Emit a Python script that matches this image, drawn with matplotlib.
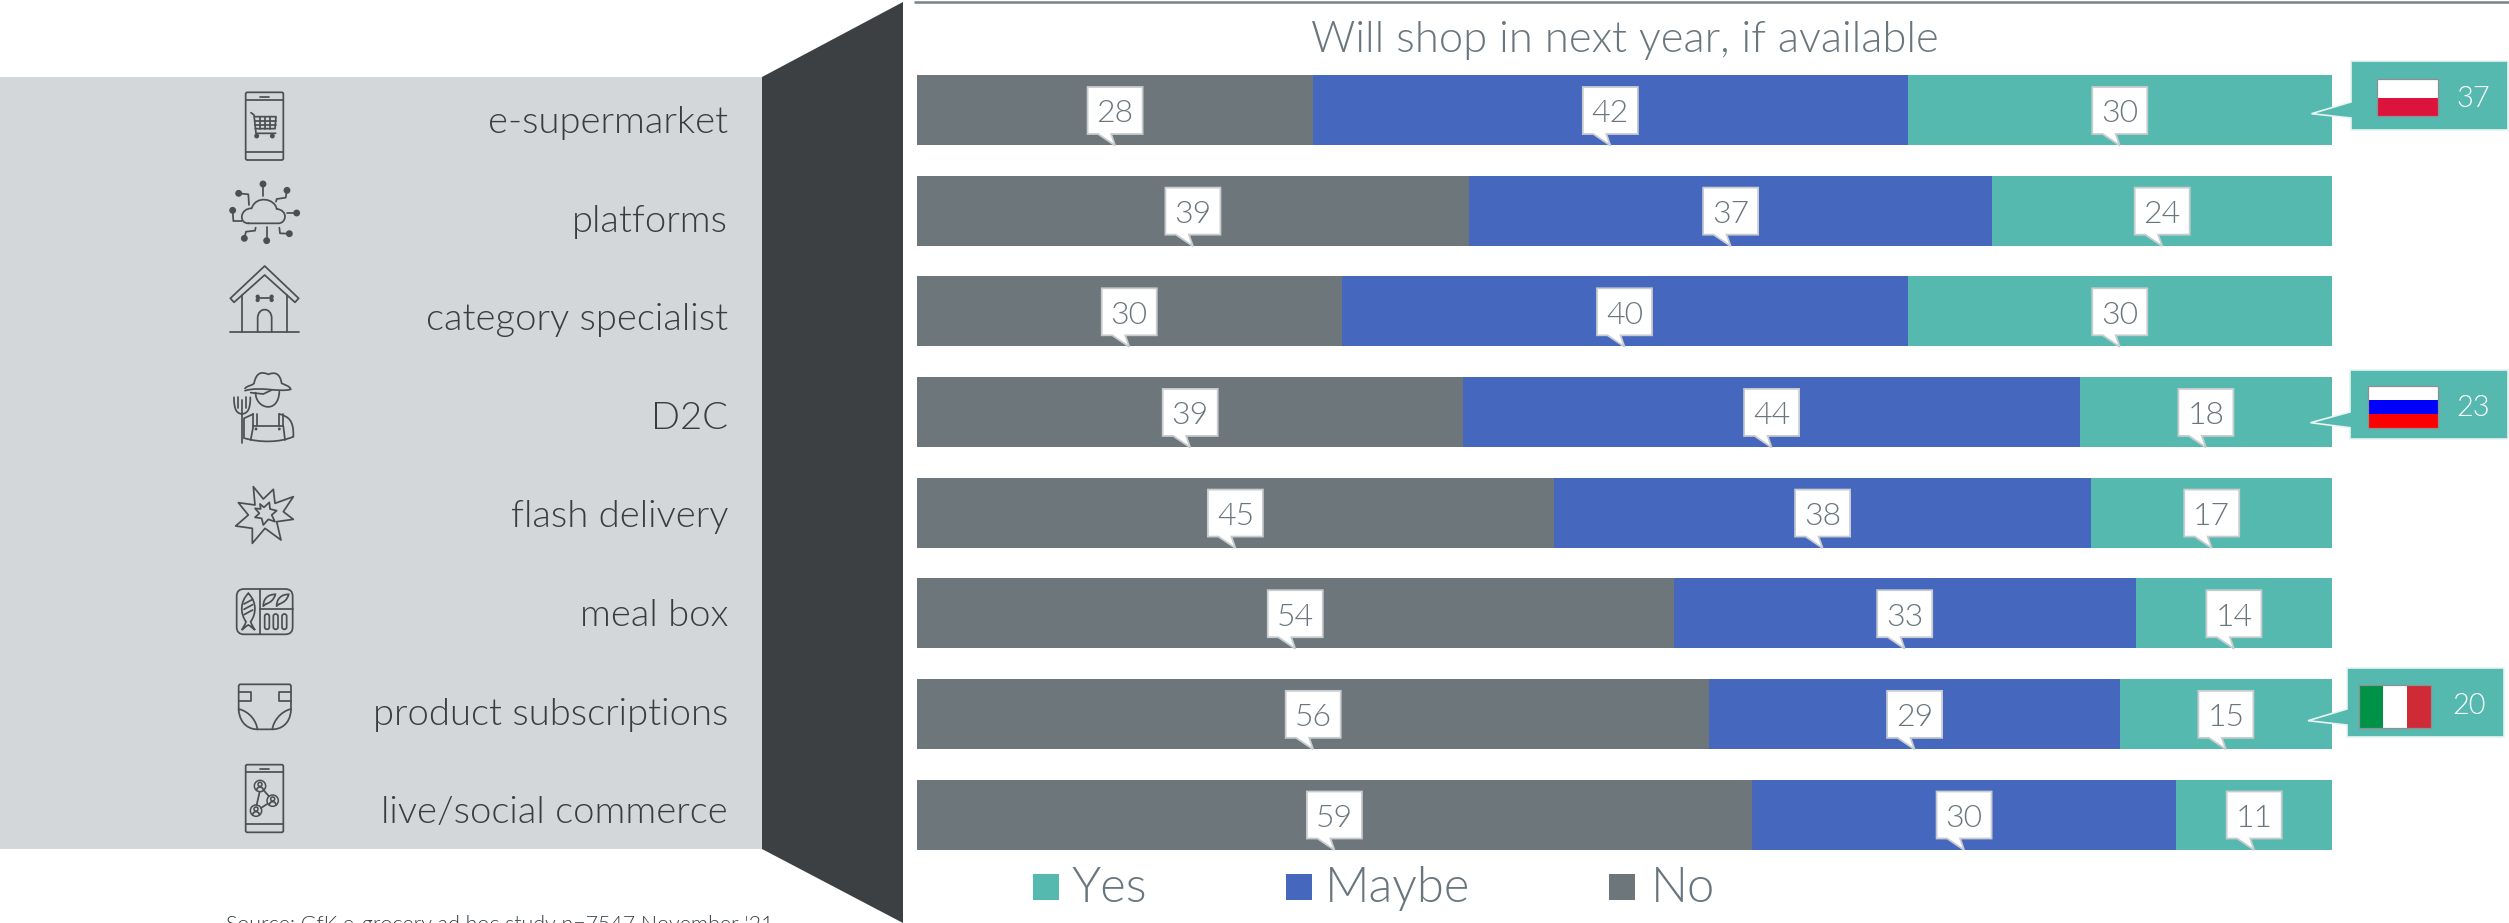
"""Online grocery formats: stated intent to shop in the next year, if available."""
import matplotlib
matplotlib.use("Agg")
import matplotlib.pyplot as plt
from matplotlib.patches import Circle, FancyBboxPatch, PathPatch, Polygon, Rectangle
from matplotlib.path import Path

WIDTH, HEIGHT = 2509, 923

plt.rcParams["font.family"] = ["Lato", "DejaVu Sans"]

formats = ["e-supermarket", "platforms", "category specialist", "D2C",
           "flash delivery", "meal box", "product subscriptions", "live/social commerce"]
no_share = [28, 39, 30, 39, 45, 54, 56, 59]
maybe_share = [42, 37, 40, 44, 38, 33, 29, 30]
yes_share = [30, 24, 30, 18, 17, 14, 15, 11]
country_rows = ["e-supermarket", "D2C", "product subscriptions"]
country_values = [37, 23, 20]
legend_labels = ["Yes", "Maybe", "No"]
title_text = "Will shop in next year, if available"
source_text = "Source: GfK e-grocery ad hoc study n=7547 November '21"

C_NO = "#6c767b"
C_MAYBE = "#4568be"
C_YES = "#56b9b0"
C_PANEL = "#d4d7da"
C_DARK = "#3c4043"
C_TEXT = "#383d41"
C_MUTED = "#6a767e"
C_ICON = "#4a4f53"
LIGHT = 300

BAR_LEFT, BAR_RIGHT = 917, 2332
ROW_FIRST, ROW_LAST = 110, 814.5
ROW_STEP = (ROW_LAST - ROW_FIRST) / 7
BAR_PX = 70


def px(size):
    """Font size in points for a height given in pixels at dpi 100."""
    return size * 0.72


def pts(ox, oy, coords):
    # icon outlines are sketched at 3 units per pixel
    return [(ox + x / 3, oy + y / 3) for x, y in coords]


def stroke(page, ox, oy, coords, closed=False):
    page.add_patch(Polygon(pts(ox, oy, coords), closed=closed, fill=False,
                           ec=C_ICON, lw=1.25, joinstyle="round", capstyle="round"))


def curve(page, ox, oy, coords):
    """Cubic bezier through a start point followed by (c1, c2, end) triples."""
    codes = [Path.MOVETO] + [Path.CURVE4] * (len(coords) - 1)
    page.add_patch(PathPatch(Path(pts(ox, oy, coords), codes), fill=False,
                             ec=C_ICON, lw=1.25, capstyle="round"))


def round_box(page, ox, oy, x0, y0, x1, y1, radius):
    (xa, ya), (xb, yb) = pts(ox, oy, [(x0, y0), (x1, y1)])
    r = radius / 3
    page.add_patch(FancyBboxPatch((xa + r, ya + r), xb - xa - 2 * r, yb - ya - 2 * r,
                                  boxstyle=f"round,pad={r},rounding_size={r}",
                                  fill=False, ec=C_ICON, lw=1.25))


def dot(page, ox, oy, x, y, r=8, filled=True):
    center = pts(ox, oy, [(x, y)])[0]
    page.add_patch(Circle(center, r / 3, fc=C_ICON if filled else "none", ec=C_ICON, lw=1.1))


def phone_body(page, ox, oy, top):
    round_box(page, ox, oy, 77, top, 190, top + 203, 5)
    stroke(page, ox, oy, [(77, top + 23), (190, top + 23)])
    stroke(page, ox, oy, [(77, top + 178), (190, top + 178)])
    stroke(page, ox, oy, [(120, top + 13), (147, top + 13)])


def icon_cart_phone(page):
    ox, oy = 220, 85
    phone_body(page, ox, oy, 22)
    stroke(page, ox, oy, [(93, 83), (102, 90), (108, 145), (167, 145)])
    stroke(page, ox, oy, [(104, 95), (168, 95), (165, 131), (106, 131)])
    for x in (120, 135, 150):
        stroke(page, ox, oy, [(x, 95), (x, 131)])
    for y in (107, 119):
        stroke(page, ox, oy, [(105, y), (167, y)])
    dot(page, ox, oy, 110, 153, 5)
    dot(page, ox, oy, 157, 153, 5)


def icon_cloud(page):
    ox, oy = 220, 85
    curve(page, ox, oy, [(85, 415), (55, 415), (60, 370), (95, 370),
                         (108, 330), (165, 340), (170, 372),
                         (205, 375), (200, 415), (175, 415),
                         (145, 415), (115, 415), (85, 415)])
    wires = [[(129, 297), (129, 333)],
             [(201, 316), (197, 338), (170, 342), (168, 350)],
             [(230, 384), (202, 384)],
             [(208, 446), (180, 445), (178, 428)],
             [(140, 467), (140, 427)],
             [(73, 460), (78, 440), (105, 437), (107, 428)],
             [(38, 376), (40, 408), (65, 408)],
             [(56, 325), (85, 328), (87, 360)]]
    for wire in wires:
        stroke(page, ox, oy, wire)
        dot(page, ox, oy, *wire[0])


def icon_kennel(page):
    ox, oy = 220, 260
    stroke(page, ox, oy, [(42, 127), (31, 115), (134, 18), (236, 115), (225, 127), (134, 45)],
           closed=True)
    stroke(page, ox, oy, [(67, 105), (67, 216)])
    stroke(page, ox, oy, [(200, 105), (200, 216)])
    stroke(page, ox, oy, [(30, 216), (237, 216)])
    curve(page, ox, oy, [(113, 216), (113, 190), (113, 190), (113, 175),
                         (113, 140), (155, 140), (155, 175),
                         (155, 190), (155, 190), (155, 216)])
    stroke(page, ox, oy, [(114, 115), (154, 115)])
    for x in (113, 155):
        dot(page, ox, oy, x, 110, 4)
        dot(page, ox, oy, x, 120, 4)


def icon_farmer(page):
    ox, oy = 220, 260
    curve(page, ox, oy, [(75, 385), (85, 375), (95, 378), (102, 370),
                         (110, 335), (125, 335), (145, 343),
                         (165, 335), (180, 340), (185, 370),
                         (195, 375), (210, 378), (212, 388),
                         (180, 398), (120, 378), (75, 392)])
    stroke(page, ox, oy, [(92, 398), (130, 402), (155, 390)])
    curve(page, ox, oy, [(107, 398), (105, 445), (175, 465), (178, 395)])
    stroke(page, ox, oy, [(66, 420), (66, 548)])
    for x in (54, 78):
        stroke(page, ox, oy, [(x, 412), (x, 445)])
    curve(page, ox, oy, [(42, 412), (42, 450), (50, 460), (66, 462)])
    curve(page, ox, oy, [(91, 412), (91, 450), (82, 460), (66, 462)])
    stroke(page, ox, oy, [(72, 535), (72, 475), (100, 462)])
    curve(page, ox, oy, [(178, 462), (205, 470), (222, 480), (220, 530)])
    curve(page, ox, oy, [(75, 535), (120, 548), (180, 548), (220, 530)])
    for x in (100, 112, 178, 190):
        stroke(page, ox, oy, [(x, 462), (x, 498)])
    stroke(page, ox, oy, [(100, 498), (190, 498)])
    stroke(page, ox, oy, [(100, 498), (92, 540)])
    stroke(page, ox, oy, [(190, 498), (195, 540)])
    dot(page, ox, oy, 108, 507, 2)
    dot(page, ox, oy, 178, 507, 2)


def icon_burst(page):
    ox, oy = 220, 480
    stroke(page, ox, oy, [(100, 20), (130, 57), (160, 28), (165, 70), (220, 50), (190, 95),
                          (220, 118), (170, 125), (183, 180), (135, 145), (97, 190), (97, 145),
                          (47, 138), (85, 105), (55, 68), (105, 75)], closed=True)
    stroke(page, ox, oy, [(120, 72), (132, 82), (148, 67), (150, 87), (170, 92), (155, 105),
                          (165, 125), (145, 118), (130, 135), (125, 115), (105, 112), (118, 100),
                          (105, 85), (122, 87)], closed=True)


def icon_meal_box(page):
    ox, oy = 220, 480
    round_box(page, ox, oy, 50, 327, 218, 463, 22)
    stroke(page, ox, oy, [(119, 327), (119, 463)])
    stroke(page, ox, oy, [(119, 388), (218, 388)])
    curve(page, ox, oy, [(85, 340), (60, 365), (60, 400), (78, 425),
                         (75, 435), (70, 442), (65, 450),
                         (72, 445), (78, 438), (85, 435),
                         (92, 438), (98, 445), (105, 450),
                         (100, 442), (95, 435), (92, 425),
                         (110, 400), (110, 365), (85, 340)])
    for y in (372, 388, 404):
        stroke(page, ox, oy, [(72, y), (98, y - 14)])
    for x in (130, 170):
        curve(page, ox, oy, [(x, 378), (x, 355), (x + 15, 343), (x + 36, 343),
                             (x + 32, 360), (x + 20, 368), (x + 8, 372)])
        stroke(page, ox, oy, [(x, 378), (x + 8, 372)])
    for x in (141, 167, 193):
        round_box(page, ox, oy, x - 7, 402, x + 7, 448, 7)


def icon_diaper(page):
    ox, oy = 220, 675
    curve(page, ox, oy, [(56, 105), (56, 80), (56, 55), (56, 35),
                         (56, 30), (58, 28), (62, 28),
                         (110, 28), (160, 28), (207, 28),
                         (211, 28), (213, 30), (213, 35),
                         (213, 55), (213, 80), (213, 105),
                         (210, 150), (180, 163), (157, 163),
                         (140, 163), (125, 163), (112, 163),
                         (90, 163), (60, 150), (56, 105)])
    curve(page, ox, oy, [(56, 102), (90, 110), (110, 140), (112, 163)])
    curve(page, ox, oy, [(213, 102), (180, 110), (160, 140), (157, 163)])
    stroke(page, ox, oy, [(56, 52), (93, 52), (93, 77), (56, 77)])
    stroke(page, ox, oy, [(213, 52), (176, 52), (176, 77), (213, 77)])


def icon_social_phone(page):
    ox, oy = 220, 675
    phone_body(page, ox, oy, 269)
    for x, y in [(120, 333), (158, 377), (108, 407)]:
        dot(page, ox, oy, x, y, 17, filled=False)
        dot(page, ox, oy, x, y - 5, 6, filled=False)
        curve(page, ox, oy, [(x - 10, y + 12), (x - 8, y), (x + 8, y), (x + 10, y + 12)])
    stroke(page, ox, oy, [(119, 350), (110, 390)])
    stroke(page, ox, oy, [(131, 346), (147, 364)])
    stroke(page, ox, oy, [(123, 399), (143, 386)])


def draw_value_callout(page, x_center, bar_top, value):
    """White speech bubble with its tip on the lower edge of the bar segment."""
    top, bottom, tip = bar_top + 12, bar_top + 59, bar_top + 70.5
    left, right = x_center - 27.5, x_center + 27.5
    page.add_patch(Polygon([(left, top), (right, top), (right, bottom),
                            (x_center - 4, bottom), (x_center, tip),
                            (x_center - 17, bottom), (left, bottom)],
                           closed=True, fc="white", ec="#c9cccf", lw=1.3, zorder=3))
    page.text(x_center, bar_top + 47.5, str(value), ha="center", va="baseline",
              fontsize=px(32), fontweight=LIGHT, color=C_MUTED, zorder=4)


def flag_poland(page, x0, y0, x1, y1):
    mid = (y0 + y1) / 2
    page.add_patch(Rectangle((x0, y0), x1 - x0, mid - y0, fc="white", zorder=5))
    page.add_patch(Rectangle((x0, mid), x1 - x0, y1 - mid, fc="#dc143c", zorder=5))


def flag_russia(page, x0, y0, x1, y1):
    band = (y1 - y0) / 3
    for i, colour in enumerate(["white", "#0000ff", "#ff0000"]):
        page.add_patch(Rectangle((x0, y0 + i * band), x1 - x0, band, fc=colour, zorder=5))


def flag_italy(page, x0, y0, x1, y1):
    band = (x1 - x0) / 3
    for i, colour in enumerate(["#009246", "white", "#ce2b37"]):
        page.add_patch(Rectangle((x0 + i * band, y0), band, y1 - y0, fc=colour, zorder=5))


COUNTRY_BOXES = {
    "e-supermarket": dict(box=(2351, 61, 2508, 130), tip=(2311.5, 113.7), base=(102, 118),
                          flag=(2376.5, 79, 2437.5, 116), label=(2473, 107), draw=flag_poland),
    "D2C": dict(box=(2350, 370, 2508, 439), tip=(2310.5, 422.7), base=(412, 427.7),
                flag=(2367.5, 386, 2438, 427.5), label=(2473, 415.7), draw=flag_russia),
    "product subscriptions": dict(box=(2347, 668, 2504, 737), tip=(2308, 720.7), base=(709, 725),
                                  flag=(2359, 685, 2430.5, 728), label=(2469, 714), draw=flag_italy),
}


def draw_country_callout(page, name, value):
    spec = COUNTRY_BOXES[name]
    x0, y0, x1, y1 = spec["box"]
    page.add_patch(Polygon([(x0, y0), (x1, y0), (x1, y1), (x0, y1), (x0, spec["base"][1]),
                            spec["tip"], (x0, spec["base"][0])],
                           closed=True, fc=C_YES, ec="#e8f3f2", lw=1.2, zorder=3))
    fx0, fy0, fx1, fy1 = spec["flag"]
    spec["draw"](page, fx0, fy0, fx1, fy1)
    page.add_patch(Rectangle((fx0, fy0), fx1 - fx0, fy1 - fy0, fill=False, ec="#8f8f8f", lw=0.9, zorder=6))
    page.text(*spec["label"], str(value), ha="center", va="baseline",
              fontsize=px(29), fontweight=LIGHT, color="white", zorder=6)


def main():
    fig = plt.figure(figsize=(WIDTH / 100, HEIGHT / 100), dpi=100, facecolor="white")

    # stacked bars, each row scaled to its own total
    top_px = ROW_FIRST - ROW_STEP / 2
    bottom_px = ROW_LAST + ROW_STEP / 2
    ax = fig.add_axes([BAR_LEFT / WIDTH, 1 - bottom_px / HEIGHT,
                       (BAR_RIGHT - BAR_LEFT) / WIDTH, (bottom_px - top_px) / HEIGHT])
    rows = list(range(len(formats)))
    totals = [a + b + c for a, b, c in zip(no_share, maybe_share, yes_share)]
    left = [0.0] * len(rows)
    segments = []
    for values, colour in [(no_share, C_NO), (maybe_share, C_MAYBE), (yes_share, C_YES)]:
        widths = [100 * v / t for v, t in zip(values, totals)]
        ax.barh(rows, widths, left=left, height=BAR_PX / ROW_STEP, color=colour)
        segments.append((values, [l + w / 2 for l, w in zip(left, widths)]))
        left = [l + w for l, w in zip(left, widths)]
    ax.set_xlim(0, 100)
    ax.set_ylim(len(rows) - 0.5, -0.5)
    ax.axis("off")

    # pixel-addressed layer for everything around and on top of the bars
    page = fig.add_axes([0, 0, 1, 1], zorder=2)
    page.set_xlim(0, WIDTH)
    page.set_ylim(HEIGHT, 0)
    page.axis("off")

    page.add_patch(Rectangle((0, 77), 762, 772, fc=C_PANEL, ec="none"))
    page.add_patch(Polygon([(762, 77), (903, 2), (903, 923), (762, 849)], closed=True,
                           fc=C_DARK, ec="none"))
    page.plot([914, WIDTH], [1.5, 1.5], color="#7c8185", lw=1.8, solid_capstyle="butt")

    for i, name in enumerate(formats):
        page.text(728, 133 + i * 98.6, name, ha="right", va="baseline",
                  fontsize=px(38.3), fontweight=LIGHT, color=C_TEXT)

    for draw_icon in (icon_cart_phone, icon_cloud, icon_kennel, icon_farmer,
                      icon_burst, icon_meal_box, icon_diaper, icon_social_phone):
        draw_icon(page)

    scale = ax.transData
    for values, centers in segments:
        for row, value, center in zip(rows, values, centers):
            x_disp, y_disp = scale.transform((center, row))
            draw_value_callout(page, x_disp, HEIGHT - y_disp - BAR_PX / 2, value)

    for name, value in zip(country_rows, country_values):
        draw_country_callout(page, name, value)

    page.text((BAR_LEFT + BAR_RIGHT) / 2, 51.7, title_text, ha="center", va="baseline",
              fontsize=px(43.6), fontweight=LIGHT, color=C_MUTED)

    swatches = [(1033, C_YES), (1286, C_MAYBE), (1609, C_NO)]
    label_x = [1071, 1325, 1651]
    for (sx, colour), lx, label in zip(swatches, label_x, legend_labels):
        page.add_patch(Rectangle((sx, 874), 26, 26, fc=colour, ec="none"))
        page.text(lx, 902, label, ha="left", va="baseline", fontsize=px(49),
                  fontweight=LIGHT, color=C_MUTED)

    page.text(226, 931, source_text, ha="left", va="baseline", fontsize=px(21.4),
              fontweight=LIGHT, color=C_TEXT, clip_on=False)

    fig.savefig("out.png", dpi=100)
    plt.close(fig)


if __name__ == "__main__":
    main()
